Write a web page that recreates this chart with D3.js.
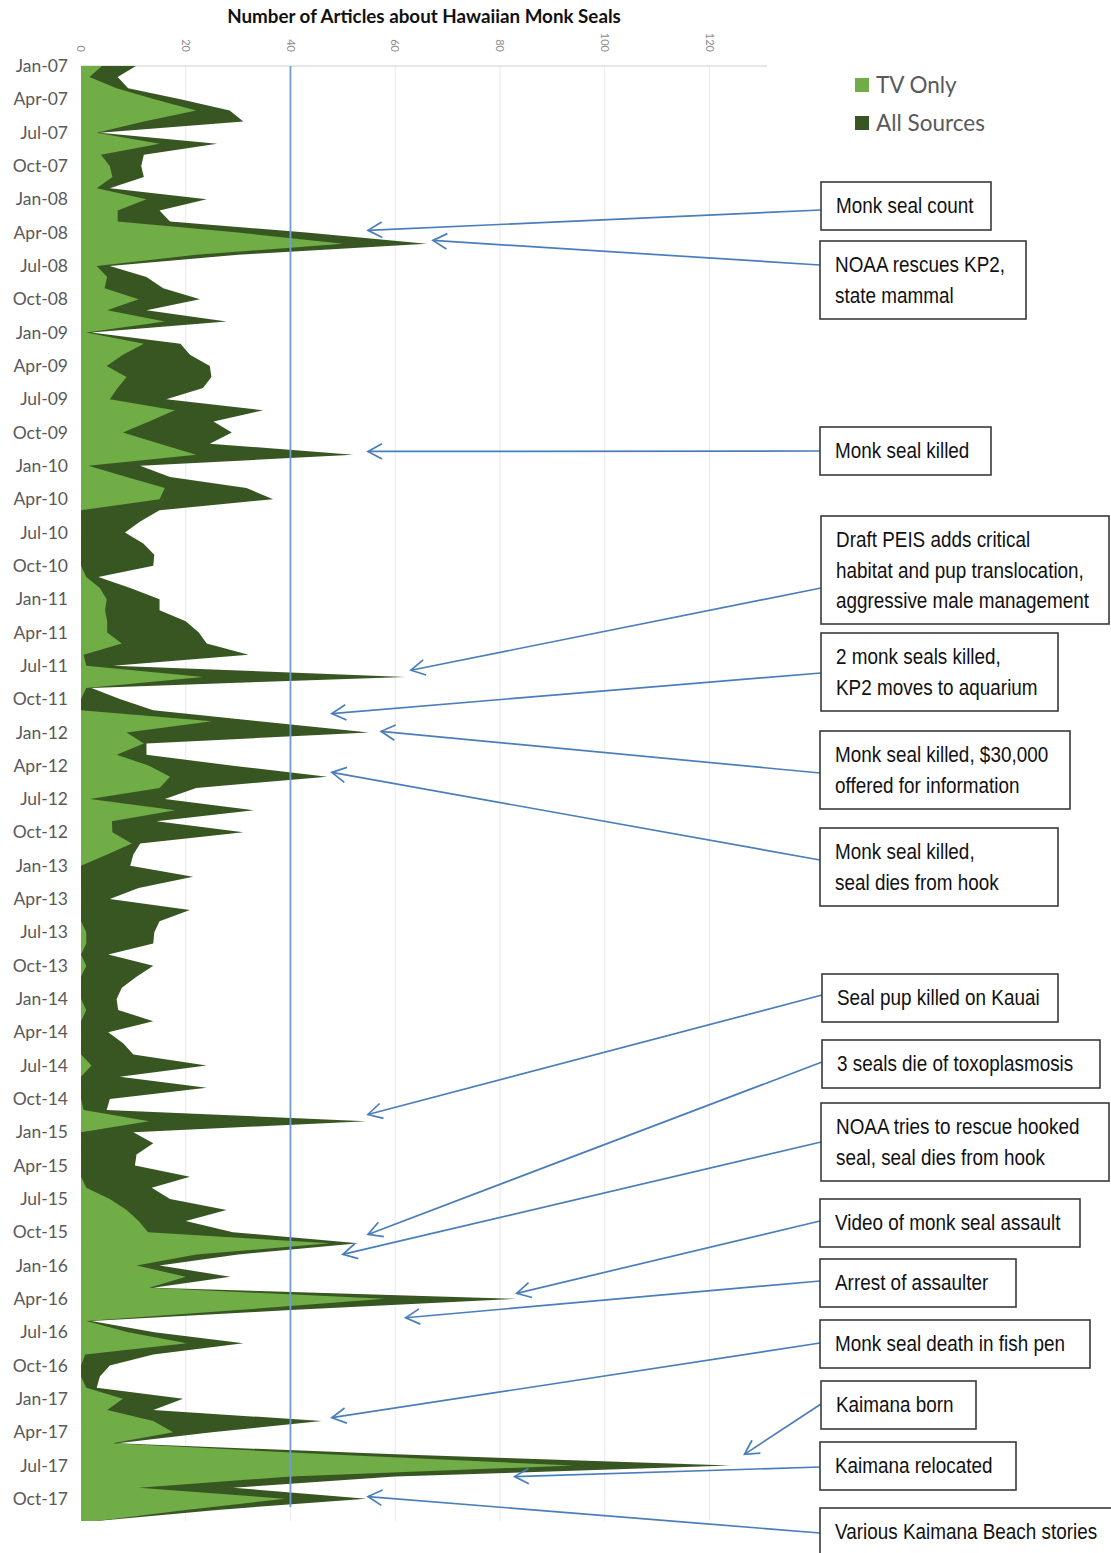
<!DOCTYPE html>
<html>
<head>
<meta charset="utf-8">
<script src="https://cdn.jsdelivr.net/npm/d3@7"></script>
<style>
  body { margin: 0; background: #fff; }
  .tick-y { font-family: Lato, "Open Sans", sans-serif; font-size: 17.5px; fill: #595959; }
  .tick-x { font-family: Lato, "Open Sans", sans-serif; font-size: 11px; fill: #8c8c8c; }
  .note { font-family: "Liberation Sans", Arial, sans-serif; font-size: 22.5px; fill: #111; }
</style>
</head>
<body>
<div id="chart"></div>
<script>
// monthly article counts, Jan-07 .. Dec-17
var allSources = [
  10.5, 7, 9, 19, 28.4, 31, 3.6, 26, 12, 11.5, 12, 5.5,
  24, 15, 17, 43, 66, 30, 5.5, 12.5, 15.7, 22.7, 12.5, 27.8,
  2, 19, 20.8, 24.6, 24.9, 23.3, 16.3, 34.8, 25.3, 28.8, 24.6, 52,
  11.3, 17, 31.6, 36.7, 15, 11.3, 8.4, 11.9, 14, 13.8, 3.3, 9.4,
  15, 15, 20, 22.5, 24, 32, 6.2, 62, 2, 7.4, 13.8, 34,
  55, 12.5, 12.5, 29, 47, 22, 16, 33, 14.4, 31, 11.3, 10,
  9.4, 21.4, 11, 5.5, 20.8, 15, 14, 13.8, 5.2, 13.8, 10.6, 7.8,
  6.8, 7.1, 13.8, 5.2, 8.1, 10, 24, 7.4, 24, 5.5, 4.9, 54.5,
  10, 13.8, 10.6, 10.3, 20.8, 13.5, 17, 27.8, 20, 29, 53, 30,
  15, 28.5, 13.8, 83, 40, 2, 14, 31, 13.8, 5.5, 3.6, 3,
  19.5, 13.8, 46, 25, 7, 60, 124, 60, 29, 54.5, 26, 3
];
var tvOnly = [
  4, 1.6, 6.8, 14, 22, 12, 3, 15, 3.8, 5.5, 6, 3,
  12.5, 7, 7, 30, 50, 22, 3, 5, 4.5, 11, 5, 16,
  1, 12, 8, 4.9, 8.7, 7, 5.5, 17.9, 13, 8, 15, 22,
  1.4, 8.7, 16, 15, 0, 0, 0, 0, 0, 0, 1, 3.6,
  4.9, 4.6, 5, 5, 7.8, 0.5, 1, 23.3, 1, 0, 0, 25,
  8.7, 12, 6.8, 13, 17, 15, 1.7, 18, 5.9, 6, 9.7, 5,
  0, 0, 0, 0, 0, 0, 1, 1, 0, 1, 0, 0,
  0, 1, 0, 0, 0, 0, 2, 0, 0, 0, 0.5, 13,
  0, 0, 0, 0, 0, 1, 5.5, 8.7, 11, 12.8, 47.5, 22,
  10.6, 20, 13, 58, 30, 1, 9, 20.2, 0.8, 0, 0, 1,
  8, 5, 13.8, 17.6, 6, 47, 94, 40, 11, 39, 20, 3
];
var firstMonth = new Date(2007, 0, 1);
var xTicks = [0, 20, 40, 60, 80, 100, 120];
var xMax = 131;
var refValue = 40;
var title = "Number of Articles about Hawaiian Monk Seals";
var legendLabels = ["TV Only", "All Sources"];

// annotation text and what it points at (month index, article count)
var noteLines = [
  ["Monk seal count"],
  ["NOAA rescues KP2,", "state mammal"],
  ["Monk seal killed"],
  ["Draft PEIS adds critical", "habitat and pup translocation,", "aggressive male management"],
  ["2 monk seals killed,", "KP2 moves to aquarium"],
  ["Monk seal killed, $30,000", "offered for information"],
  ["Monk seal killed,", "seal dies from hook"],
  ["Seal pup killed on Kauai"],
  ["3 seals die of toxoplasmosis"],
  ["NOAA tries to rescue hooked", "seal, seal dies from hook"],
  ["Video of monk seal assault"],
  ["Arrest of assaulter"],
  ["Monk seal death in fish pen"],
  ["Kaimana born"],
  ["Kaimana relocated"],
  ["Various Kaimana Beach stories"]
];
var noteMonth = [14.8, 15.7, 34.7, 54.4, 58.3, 59.9, 63.6, 94.4, 105.2, 107, 110.5, 112.7, 121.7, 125, 127, 128.8];
var noteValue = [54.8, 67.2, 54.8, 63, 47.9, 57.3, 47.9, 54.8, 54.8, 50, 83.2, 62, 47.9, 126.7, 82.8, 54.8];

// box layout
var boxX = [821, 820, 820, 821, 821, 820, 820, 822, 822, 821, 820, 820, 820, 821, 820, 820];
var boxY = [182, 241, 427, 516, 633, 731, 828, 974, 1040, 1103, 1199, 1259, 1320, 1381, 1442, 1508];
var boxW = [170, 206, 171, 288, 237, 250, 238, 236, 278, 288, 260, 196, 270, 155, 196, 300];
var arrowFromY = [210, 265, 451, 588, 673, 773, 860, 995, 1062, 1142, 1221, 1281, 1343, 1404, 1467, 1533];

var width = 1111, height = 1553;
var fmt = d3.timeFormat("%b-%y");

var svg = d3.select("#chart").append("svg")
  .attr("width", width)
  .attr("height", height);

var defs = svg.append("defs");
defs.append("filter").attr("id", "soft")
  .append("feGaussianBlur").attr("stdDeviation", 0.7);

var x = d3.scaleLinear().domain([0, xMax]).range([81, 767]);
var y = d3.scaleLinear().domain([0, allSources.length - 1]).range([66, 1521]);

// gridlines
svg.append("g")
  .selectAll("line")
  .data(xTicks.filter(function(d) { return d > 0; }))
  .enter().append("line")
  .attr("x1", function(d) { return x(d); })
  .attr("x2", function(d) { return x(d); })
  .attr("y1", y(0))
  .attr("y2", y(allSources.length - 1))
  .attr("stroke", "#ececec")
  .attr("stroke-width", 1.2);

svg.append("line")
  .attr("x1", x(0)).attr("x2", x(xMax))
  .attr("y1", y(0)).attr("y2", y(0))
  .attr("stroke", "#dedede").attr("stroke-width", 1.5);

// x tick labels, rotated
svg.append("g")
  .selectAll("text")
  .data(xTicks)
  .enter().append("text")
  .attr("class", "tick-x")
  .attr("transform", function(d) { return "translate(" + x(d) + ",52) rotate(90)"; })
  .attr("text-anchor", "end")
  .attr("dy", "0.35em")
  .text(function(d) { return d; });

// y tick labels every quarter
var quarterIdx = d3.range(0, allSources.length, 3);
svg.append("g")
  .selectAll("text")
  .data(quarterIdx)
  .enter().append("text")
  .attr("class", "tick-y")
  .attr("x", 68)
  .attr("y", function(d) { return y(d); })
  .attr("dy", "0.35em")
  .attr("text-anchor", "end")
  .text(function(d) { return fmt(d3.timeMonth.offset(firstMonth, d)); });

// areas
var area = d3.area()
  .y(function(d, i) { return y(i); })
  .x0(x(0))
  .x1(function(d) { return x(d); });

svg.append("path")
  .datum(allSources)
  .attr("d", area)
  .attr("fill", "#375623")
  .attr("filter", "url(#soft)");

svg.append("path")
  .datum(tvOnly)
  .attr("d", area)
  .attr("fill", "#70ad47")
  .attr("filter", "url(#soft)");

// reference line at 40
svg.append("line")
  .attr("x1", x(refValue)).attr("x2", x(refValue))
  .attr("y1", y(0)).attr("y2", 1507)
  .attr("stroke", "#6f9bd1")
  .attr("stroke-width", 1.8);

// title
svg.append("text")
  .attr("x", 424).attr("y", 23)
  .attr("text-anchor", "middle")
  .style("font-family", "Lato, 'Open Sans', sans-serif")
  .style("font-weight", "bold")
  .style("font-size", "18.8px")
  .style("fill", "#111")
  .text(title);

// legend
var legendColors = ["#70ad47", "#375623"];
var lg = svg.append("g").selectAll("g")
  .data(legendLabels)
  .enter().append("g")
  .attr("transform", function(d, i) { return "translate(855," + (78 + i * 38) + ")"; });
lg.append("rect")
  .attr("width", 14).attr("height", 14)
  .attr("fill", function(d, i) { return legendColors[i]; });
lg.append("text")
  .attr("x", 21).attr("y", 7).attr("dy", "0.35em")
  .style("font-family", "Lato, 'Open Sans', sans-serif")
  .style("font-size", "22.5px")
  .style("fill", "#595959")
  .text(function(d) { return d; });

// annotations: arrows then boxes
var arrowColor = "#4a7ebb";
var ag = svg.append("g");
noteLines.forEach(function(lines, i) {
  var tx = x(noteValue[i]), ty = y(noteMonth[i]);
  var sx = boxX[i], sy = arrowFromY[i];
  ag.append("line")
    .attr("x1", sx).attr("y1", sy)
    .attr("x2", tx).attr("y2", ty)
    .attr("stroke", arrowColor).attr("stroke-width", 1.7);
  var ang = Math.atan2(sy - ty, sx - tx);
  var len = 16, spread = 0.5;
  var p1 = [tx + len * Math.cos(ang - spread), ty + len * Math.sin(ang - spread)];
  var p2 = [tx + len * Math.cos(ang + spread), ty + len * Math.sin(ang + spread)];
  ag.append("path")
    .attr("d", "M" + p1[0] + "," + p1[1] + "L" + tx + "," + ty + "L" + p2[0] + "," + p2[1])
    .attr("fill", "none")
    .attr("stroke", arrowColor).attr("stroke-width", 1.7);
});

// narrow font look: squeeze a regular sans horizontally
var narrow = 0.84;
var bg = svg.append("g");
noteLines.forEach(function(lines, i) {
  var h = 18 + 30 * lines.length;
  bg.append("rect")
    .attr("x", boxX[i]).attr("y", boxY[i])
    .attr("width", boxW[i]).attr("height", h)
    .attr("fill", "#fff")
    .attr("stroke", "#3a3a3a").attr("stroke-width", 1.6);
  lines.forEach(function(line, j) {
    bg.append("text")
      .attr("class", "note")
      .attr("transform", "translate(" + (boxX[i] + 15) + "," + (boxY[i] + 31 + j * 30.5) + ") scale(" + narrow + ",1)")
      .text(line);
  });
});
</script>
</body>
</html>
